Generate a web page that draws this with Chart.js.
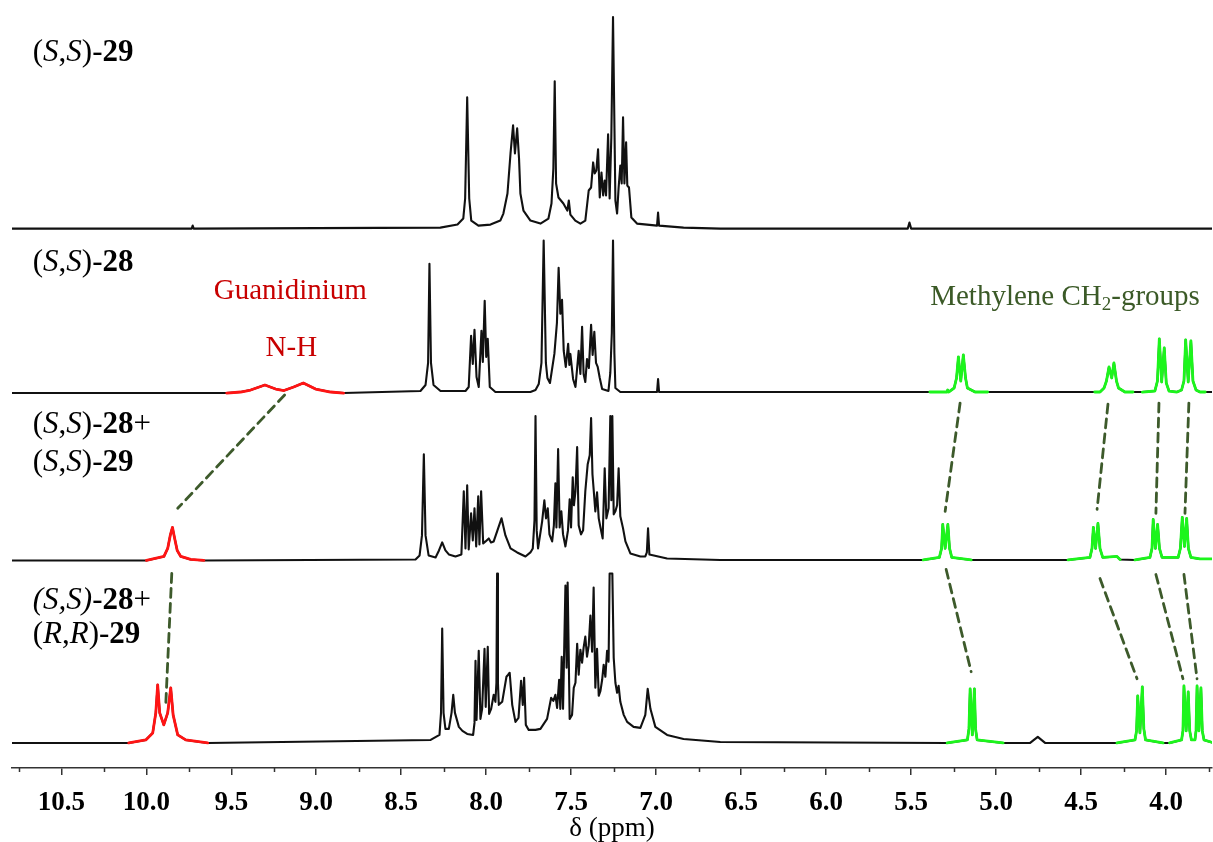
<!DOCTYPE html>
<html>
<head>
<meta charset="utf-8">
<script src="https://cdn.jsdelivr.net/npm/chart.js@4.4.1/dist/chart.umd.min.js"></script>
<style>
  html, body { margin: 0; padding: 0; background: #fff; }
</style>
</head>
<body>
<canvas id="nmr" width="1213" height="842"></canvas>
<script>
// Stacked 1H NMR spectra, [shift (ppm), intensity above own baseline]
const ss29 = [[10.79,0],[9.733,0],[9.727,3],[9.721,0],[8.27,1],[8.169,4],[8.135,10],[8.124,30],[8.112,131],[8.100,30],[8.088,8],[8.046,3],[7.975,4],[7.917,8],[7.899,15],[7.875,35],[7.857,75],[7.842,103],[7.831,75],[7.818,100],[7.807,70],[7.799,35],[7.781,18],[7.740,8],[7.681,5],[7.634,10],[7.616,25],[7.605,60],[7.597,147],[7.589,45],[7.575,31],[7.546,25],[7.523,18],[7.514,28],[7.505,14],[7.476,8],[7.446,5],[7.417,8],[7.397,38],[7.383,41],[7.371,66],[7.362,55],[7.352,58],[7.342,79],[7.332,31],[7.322,56],[7.312,33],[7.303,48],[7.295,33],[7.283,94],[7.274,30],[7.264,91],[7.254,211],[7.240,28],[7.230,15],[7.221,41],[7.211,63],[7.203,45],[7.195,111],[7.187,45],[7.177,86],[7.170,43],[7.160,41],[7.146,11],[7.113,5],[7.054,4],[6.995,3],[6.989,16],[6.983,3],[6.839,1],[6.623,0],[5.52,0],[5.51,6],[5.50,0],[3.72,0]];

const ss28 = [[10.79,0],[9.527,0],[9.445,1],[9.386,3],[9.302,8],[9.239,4],[9.190,2.5],[9.133,6],[9.076,10],[9.004,4],[8.916,1],[8.839,0],[8.387,2],[8.357,8],[8.342,30],[8.334,129],[8.325,30],[8.310,8],[8.269,2],[8.122,2],[8.103,6],[8.089,57],[8.079,29],[8.069,63],[8.057,16],[8.044,6],[8.028,62],[8.020,31],[8.009,92],[8.000,36],[7.991,54],[7.979,6],[7.946,1],[7.74,1],[7.710,3],[7.691,9],[7.675,30],[7.662,152],[7.649,30],[7.640,15],[7.625,10],[7.599,39],[7.584,70],[7.574,125],[7.564,79],[7.554,93],[7.544,42],[7.532,26],[7.518,49],[7.511,28],[7.505,39],[7.489,14],[7.475,6],[7.456,42],[7.446,19],[7.436,66],[7.427,19],[7.417,11],[7.407,34],[7.396,25],[7.383,68],[7.374,38],[7.364,61],[7.354,30],[7.344,26],[7.332,15],[7.318,4],[7.281,2],[7.270,20],[7.261,60],[7.254,152],[7.246,40],[7.240,5],[7.211,1],[6.995,1],[6.989,14],[6.983,1],[5.39,1],[5.290,1],[5.285,3],[5.280,1],[5.247,5],[5.233,15],[5.222,36],[5.208,12],[5.193,38],[5.180,15],[5.169,5],[5.124,1],[5.05,1],[4.42,1],[4.389,1],[4.365,5],[4.351,12],[4.336,26],[4.320,15],[4.307,30],[4.292,12],[4.280,5],[4.242,1],[4.195,1],[4.14,1],[4.066,2],[4.051,12],[4.040,54],[4.026,11],[4.011,45],[3.999,10],[3.983,2],[3.936,1],[3.909,3],[3.895,12],[3.885,53],[3.870,11],[3.854,52],[3.842,12],[3.824,3],[3.801,1],[3.77,1],[3.72,1]];

const mixSS = [[10.79,0],[9.999,0],[9.896,4],[9.874,12],[9.859,25],[9.846,33],[9.833,22],[9.818,10],[9.797,4],[9.739,1],[9.661,0],[8.416,1],[8.392,5],[8.378,25],[8.367,106],[8.357,25],[8.339,5],[8.298,3],[8.278,10],[8.259,18],[8.240,10],[8.220,6],[8.181,4],[8.146,6],[8.132,69],[8.122,12],[8.112,75],[8.103,11],[8.089,47],[8.079,20],[8.069,52],[8.059,14],[8.047,64],[8.040,16],[8.030,69],[8.018,17],[8.004,19],[7.985,22],[7.972,18],[7.956,19],[7.934,30],[7.910,42],[7.887,25],[7.857,12],[7.818,8],[7.769,4],[7.740,8],[7.726,12],[7.716,40],[7.710,144],[7.703,30],[7.695,12],[7.671,39],[7.658,60],[7.648,42],[7.638,52],[7.628,26],[7.612,19],[7.602,35],[7.593,77],[7.587,33],[7.577,111],[7.568,33],[7.558,49],[7.548,26],[7.534,14],[7.519,30],[7.509,61],[7.501,33],[7.491,83],[7.484,55],[7.475,69],[7.465,113],[7.456,35],[7.442,26],[7.430,30],[7.417,69],[7.403,96],[7.391,105],[7.383,142],[7.375,86],[7.368,71],[7.358,49],[7.348,68],[7.338,42],[7.328,33],[7.315,22],[7.303,92],[7.293,42],[7.280,52],[7.270,144],[7.264,60],[7.258,144],[7.250,46],[7.240,49],[7.230,55],[7.221,92],[7.211,44],[7.195,32],[7.181,19],[7.152,7],[7.093,4],[7.064,4],[7.055,8],[7.048,32],[7.040,6],[6.936,2],[6.623,0.5],[5.429,0.5],[5.334,3],[5.321,12],[5.314,36],[5.300,12],[5.284,36],[5.274,12],[5.261,3],[5.147,0.5],[4.577,0.5],[4.448,3],[4.436,12],[4.428,33],[4.415,12],[4.401,37],[4.389,12],[4.373,3],[4.289,4],[4.271,1],[4.183,0.5],[4.095,3],[4.083,12],[4.076,41],[4.063,12],[4.050,36],[4.039,12],[4.024,3],[3.929,3],[3.916,12],[3.905,43],[3.892,14],[3.879,42],[3.869,12],[3.854,3],[3.801,1.5],[3.72,1.5]];

const mixSR = [[10.79,0],[10.103,0],[10.003,3],[9.962,10],[9.944,30],[9.933,58],[9.921,30],[9.897,18],[9.874,30],[9.856,55],[9.842,28],[9.815,8],[9.768,3],[9.639,0],[8.327,3],[8.275,8],[8.266,30],[8.259,114],[8.251,30],[8.240,14],[8.220,14],[8.204,30],[8.194,48],[8.184,30],[8.161,16],[8.140,12],[8.112,9],[8.077,8],[8.069,20],[8.063,82],[8.057,23],[8.044,92],[8.034,24],[8.024,34],[8.010,94],[8.003,36],[7.991,96],[7.983,29],[7.971,34],[7.956,48],[7.946,41],[7.940,60],[7.936,169],[7.931,60],[7.926,38],[7.906,41],[7.881,66],[7.871,68],[7.862,70],[7.847,38],[7.828,21],[7.810,25],[7.795,62],[7.785,38],[7.777,65],[7.767,18],[7.750,13],[7.710,13],[7.681,14],[7.642,24],[7.618,45],[7.605,42],[7.593,48],[7.583,35],[7.571,63],[7.564,34],[7.556,86],[7.548,34],[7.534,157],[7.527,75],[7.521,160],[7.509,24],[7.495,28],[7.485,55],[7.475,60],[7.465,99],[7.456,68],[7.446,93],[7.436,80],[7.427,95],[7.417,106],[7.407,86],[7.397,97],[7.387,127],[7.377,91],[7.368,155],[7.358,55],[7.348,94],[7.338,47],[7.328,52],[7.318,63],[7.309,78],[7.299,66],[7.289,92],[7.280,81],[7.274,169],[7.265,169],[7.258,169],[7.250,85],[7.240,60],[7.230,50],[7.221,57],[7.211,41],[7.191,28],[7.171,21],[7.133,16],[7.093,15],[7.064,28],[7.050,54],[7.034,34],[7.005,16],[6.936,8],[6.839,4],[6.623,1],[5.288,0],[5.169,3],[5.160,14],[5.153,54],[5.140,8],[5.128,54],[5.121,14],[5.112,3],[4.959,0],[4.800,0],[4.755,6],[4.712,0],[4.289,0],[4.183,3],[4.174,12],[4.167,47],[4.154,10],[4.140,56],[4.131,14],[4.121,3],[4.018,0],[3.98,0],[3.909,3],[3.901,12],[3.895,57],[3.882,12],[3.870,51],[3.861,12],[3.851,3],[3.830,3],[3.824,12],[3.818,57],[3.807,12],[3.795,55],[3.787,12],[3.777,3],[3.72,0]];

// highlighted shift windows [from, to] (ppm)
const ss28Red = [[9.527, 8.839]];
const ss28Green = [[5.39, 5.05], [4.42, 4.195], [4.14, 3.77]];
const mixSSRed = [[9.999, 9.661]];
const mixSSGreen = [[5.429, 5.147], [4.577, 4.271], [4.183, 3.72]];
const mixSRRed = [[10.103, 9.639]];
const mixSRGreen = [[5.288, 4.959], [4.289, 4.018], [3.98, 3.72]];

// dashed correlation lines [ppm1, y1, ppm2, y2]
const nhLinks = [[9.186, 372, 9.815, 259], [9.850, 194, 9.886, 61]];
const ch2Links = [
  [5.212, 364, 5.300, 256], [4.342, 363, 4.406, 258], [4.042, 364, 4.060, 254], [3.866, 364, 3.889, 254],
  [5.294, 198, 5.147, 96], [4.389, 189, 4.171, 89], [4.060, 193, 3.901, 89], [3.895, 193, 3.818, 89]
];

const serif = '"Liberation Serif", "Times New Roman", serif';
const BLACK = '#111', RED = '#ff1414', GREEN = '#1cf51c', DASH = '#3d5a2b';

const spectra = [
  { points: ss29, base: 538, red: [], green: [] },
  { points: ss28, base: 374, red: ss28Red, green: ss28Green },
  { points: mixSS, base: 207, red: mixSSRed, green: mixSSGreen },
  { points: mixSR, base: 25, red: mixSRRed, green: mixSRGreen }
];

const datasets = [];
spectra.forEach(s => {
  const pts = s.points.map(([x, y]) => ({ x, y: y + s.base }));
  datasets.push({ data: pts, borderColor: BLACK, borderWidth: 2.1, order: 3 });
  const overlay = (ranges, color) => ranges.forEach(([hi, lo]) => {
    datasets.push({ data: pts.filter(p => p.x <= hi && p.x >= lo), borderColor: color, borderWidth: 2.8, order: 2 });
  });
  overlay(s.red, RED);
  overlay(s.green, GREEN);
});
nhLinks.concat(ch2Links).forEach(([x1, y1, x2, y2]) => {
  datasets.push({ data: [{ x: x1, y: y1 }, { x: x2, y: y2 }], borderColor: DASH, borderWidth: 2.8, borderDash: [9, 6], order: 1 });
});

const R = '', I = 'italic ', B = 'bold ';
const textLabels = [
  { ppm: 10.668, y: 705, color: '#000', size: 31, parts: [['(', R], ['S', I], [',', R], ['S', I], [')-', R], ['29', B]] },
  { ppm: 10.668, y: 496, color: '#000', size: 31, parts: [['(', R], ['S', I], [',', R], ['S', I], [')-', R], ['28', B]] },
  { ppm: 10.668, y: 334, color: '#000', size: 31, parts: [['(', R], ['S', I], [',', R], ['S', I], [')-', R], ['28', B], ['+', R]] },
  { ppm: 10.668, y: 296, color: '#000', size: 31, parts: [['(', R], ['S', I], [',', R], ['S', I], [')-', R], ['29', B]] },
  { ppm: 10.668, y: 159, color: '#000', size: 31, parts: [['(S,S)', I], ['-', R], ['28', B], ['+', R]] },
  { ppm: 10.668, y: 125, color: '#000', size: 31, parts: [['(', R], ['R', I], [',', R], ['R', I], [')-', R], ['29', B]] },
  { ppm: 9.603, y: 468, color: '#c80000', size: 29, parts: [['Guanidinium', R]] },
  { ppm: 9.298, y: 411, color: '#c80000', size: 29, parts: [['N-H', R]] },
  { ppm: 5.388, y: 462, color: '#3b5a27', size: 29, parts: [['Methylene CH', R], ['2', 'sub'], ['-groups', R]] }
];

const labelPlugin = {
  id: 'labels',
  afterDatasetsDraw(chart) {
    const { ctx, scales: { x, y } } = chart;
    ctx.save();
    ctx.textBaseline = 'alphabetic';
    textLabels.forEach(l => {
      let px = x.getPixelForValue(l.ppm);
      const py = y.getPixelForValue(l.y);
      ctx.fillStyle = l.color;
      l.parts.forEach(([t, st]) => {
        const sub = st === 'sub';
        const size = sub ? Math.round(l.size * 0.65) : l.size;
        ctx.font = (sub ? '' : st) + size + 'px ' + serif;
        ctx.fillText(t, px, py + (sub ? 5 : 0));
        px += ctx.measureText(t).width;
      });
    });
    ctx.restore();
  }
};

const minorTicks = {
  id: 'minorTicks',
  afterDraw(chart) {
    const { ctx, chartArea } = chart;
    const sx = chart.scales.x;
    ctx.save();
    ctx.strokeStyle = '#333';
    ctx.lineWidth = 1.5;
    for (let v = 3.75; v < sx.max; v += 0.5) {
      const px = Math.round(sx.getPixelForValue(v)) + 0.5;
      ctx.beginPath();
      ctx.moveTo(px, chartArea.bottom);
      ctx.lineTo(px, chartArea.bottom + 4);
      ctx.stroke();
    }
    ctx.restore();
  }
};

new Chart(document.getElementById('nmr'), {
  type: 'line',
  data: { datasets },
  plugins: [labelPlugin, minorTicks],
  options: {
    responsive: false,
    animation: false,
    events: [],
    layout: { padding: { left: 12, right: 1, top: 0, bottom: 0 } },
    elements: {
      point: { radius: 0 },
      line: { tension: 0, fill: false, borderJoinStyle: 'round', borderCapStyle: 'round' }
    },
    plugins: { legend: { display: false }, tooltip: { enabled: false } },
    scales: {
      x: {
        type: 'linear',
        reverse: true,
        min: 3.73,
        max: 10.79,
        border: { display: true, color: '#333', width: 1.5 },
        grid: { display: true, drawOnChartArea: false, drawTicks: true, tickLength: 7, color: '#333', lineWidth: 1.5 },
        ticks: {
          stepSize: 0.5,
          includeBounds: false,
          autoSkip: false,
          maxRotation: 0,
          padding: 15,
          color: '#000',
          font: { family: serif, size: 27, weight: 'bold', lineHeight: 1 },
          callback: v => v.toFixed(1)
        },
        title: {
          display: true,
          text: 'δ (ppm)',
          color: '#000',
          font: { family: serif, size: 27, lineHeight: 1 },
          padding: { top: -17, bottom: 0 }
        }
      },
      y: { display: false, min: 0, max: 766 }
    }
  }
});
</script>
</body>
</html>
